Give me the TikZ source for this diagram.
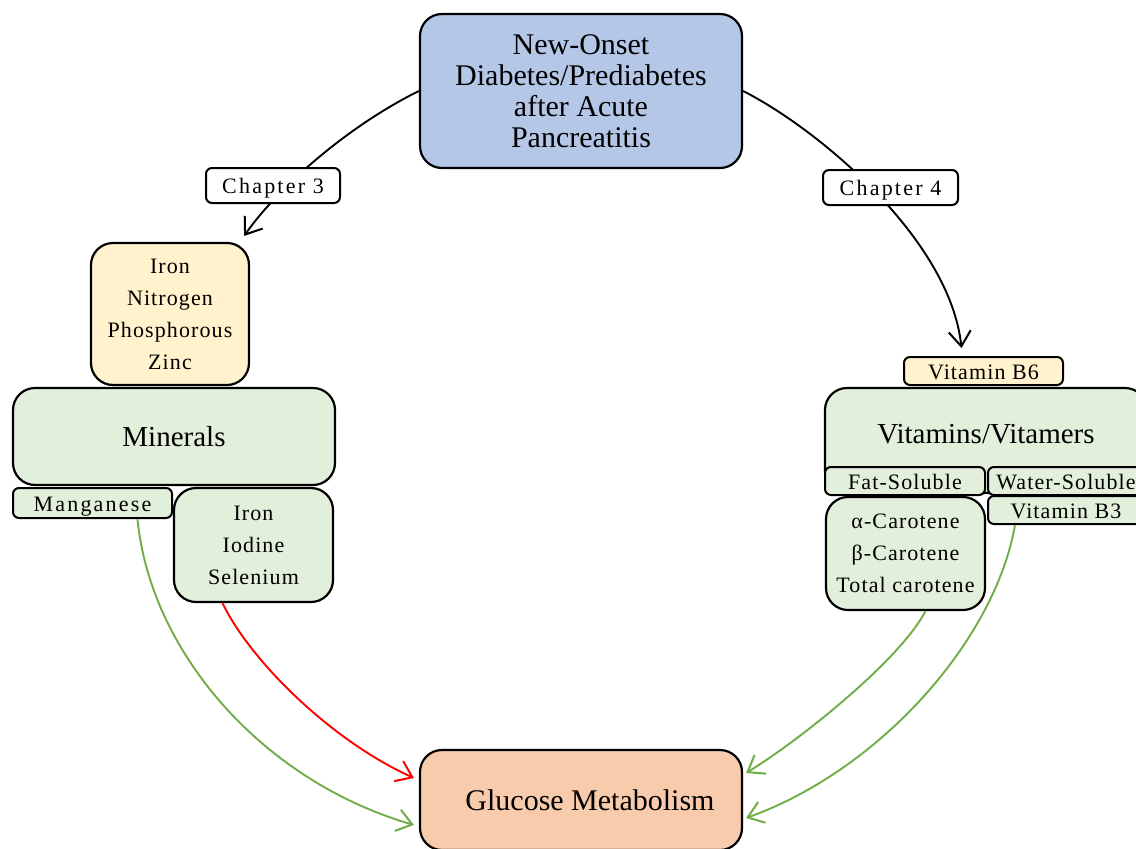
\documentclass[tikz,border=0pt]{standalone}
\usepackage{fontspec}
\setmainfont{Liberation Serif}
\newfontfamily\spacedfont[LetterSpace=5]{Liberation Serif}
\newfontfamily\widefont[LetterSpace=10]{Liberation Serif}
\usepackage{tikz}
\usetikzlibrary{arrows.meta}
\definecolor{topblue}{HTML}{B4C7E7}
\definecolor{minyellow}{HTML}{FFF2CC}
\definecolor{boxgreen}{HTML}{E2EFDA}
\definecolor{glucorange}{HTML}{F8CBAD}
\definecolor{linkgreen}{HTML}{70AD47}

\begin{document}
\begin{tikzpicture}[x=1pt, y=-1pt, >={Straight Barb[length=15pt,width=22pt,line width=2pt]},
  bigbox/.style = {draw, line width=2.2pt, rounded corners=22pt, align=center, inner sep=0pt},
  listbox/.style = {bigbox, font=\spacedfont\fontsize{22}{32}\selectfont, text depth=-4pt},
  smallbox/.style = {draw, line width=2pt, rounded corners=6pt, align=center, inner sep=0pt,
    font=\spacedfont\fontsize{22}{32}\selectfont, text height=16pt, text depth=0pt},
  link/.style = {line width=1.9pt, ->}]
\useasboundingbox (0,0) rectangle (1136,849);
\fill[white] (0,0) rectangle (1136,849);

% top and bottom
\node[bigbox, fill=topblue, minimum width=322pt, minimum height=154pt,
  font=\fontsize{30}{31}\selectfont] (onset) at (581,91)
  {New-Onset\\Diabetes/Prediabetes\\after Acute\\Pancreatitis};
\node[bigbox, fill=glucorange, minimum width=322pt, minimum height=100pt,
  font=\fontsize{30}{32}\selectfont] (glucose) at (581,800) {\hspace{18pt}Glucose Metabolism};

% minerals side
\node[listbox, fill=minyellow, minimum width=158pt, minimum height=142pt] (minlist) at (170,314) {Iron\\Nitrogen\\Phosphorous\\Zinc};
\node[bigbox, fill=boxgreen, minimum width=322pt, minimum height=97pt,
  font=\fontsize{29}{32}\selectfont] (minerals) at (174,436.5) {Minerals};
\node[smallbox, fill=boxgreen, minimum width=159pt, minimum height=30pt, font=\widefont\fontsize{22}{32}\selectfont] (manganese) at (92.5,503) {Manganese};
\node[listbox, fill=boxgreen, minimum width=159pt, minimum height=114pt] (trace) at (253.5,545) {Iron\\Iodine\\Selenium};

% vitamins side
\node[smallbox, fill=minyellow, minimum width=159pt, minimum height=28pt] (vitB6) at (983.5,371) {Vitamin B6};
\node[bigbox, fill=boxgreen, minimum width=322pt, minimum height=105pt,
  font=\fontsize{29}{32}\selectfont, text depth=14pt] (vitamins) at (986,440.5) {Vitamins/Vitamers};
\node[smallbox, fill=boxgreen, minimum width=160pt, minimum height=28pt] (fat) at (905,481) {Fat-Soluble};
\node[smallbox, fill=boxgreen, minimum width=156pt, minimum height=28pt] (water) at (1066,481) {Water-Soluble};
\node[smallbox, fill=boxgreen, minimum width=156pt, minimum height=28pt] (vitB3) at (1066,510) {Vitamin B3};
\node[listbox, fill=boxgreen, minimum width=159pt, minimum height=113pt] (carotene) at (905.5,553.5) {α-Carotene\\β-Carotene\\Total carotene};

% chapters
\draw[link] (onset.west) .. controls (350,125) and (280,185) .. ([xshift=-6pt,yshift=6pt]minlist.north east);
\draw[link] (onset.east) .. controls (820,130) and (950,240) .. ([xshift=-22pt,yshift=8pt]vitB6.north);
\node[smallbox, fill=white, minimum width=134pt, minimum height=35pt, font=\widefont\fontsize{22}{32}\selectfont] (chapA) at (273,185.5) {Chapter 3};
\node[smallbox, fill=white, minimum width=135pt, minimum height=35pt, font=\widefont\fontsize{22}{32}\selectfont] (chapB) at (890.5,187.5) {Chapter 4};

% effects on glucose metabolism
\draw[link, linkgreen] ([xshift=45pt]manganese.south) .. controls (150,650) and (260,780) .. ([xshift=-5pt,yshift=-25pt]glucose.west);
\draw[link, red] ([xshift=-31pt]trace.south) .. controls (250,660) and (330,740) .. ([xshift=-5pt,yshift=22pt]glucose.west);
\draw[link, linkgreen] ([xshift=20pt]carotene.south) .. controls (900,660) and (800,740) .. ([xshift=3pt,yshift=27pt]glucose.east);
\draw[link, linkgreen] ([xshift=-51pt]vitB3.south) .. controls (995,640) and (880,770) .. ([xshift=3pt,yshift=-18pt]glucose.east);
\end{tikzpicture}
\end{document}
